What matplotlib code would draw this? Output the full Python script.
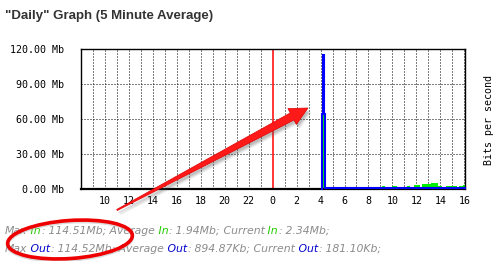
import matplotlib
matplotlib.use("Agg")
import matplotlib.pyplot as plt
import numpy as np
from matplotlib.patches import Ellipse, Polygon

# ---------------- data ----------------
# hours relative to midnight (negative = previous day)
hour_ticks = list(range(-14, 17, 2))
hour_labels = ["10", "12", "14", "16", "18", "20", "22", "0", "2", "4",
               "6", "8", "10", "12", "14", "16"]
y_ticks = [0, 30, 60, 90, 120]
y_labels = ["0.00 Mb", "30.00 Mb", "60.00 Mb", "90.00 Mb", "120.00 Mb"]

# Out (blue) step series: start time of each step and value (Mb)
out_t = [4.12, 4.22, 4.30, 4.38, 16.10]
out_v = [64.5, 114.5, 64.5, 0.8, 0.8]

# In (green) step series
in_t = [4.12, 4.22, 4.30, 4.38, 5.45, 5.55, 9.10, 9.40, 9.70, 10.00, 10.40,
        10.80, 11.00, 11.20, 11.50, 11.80, 12.30, 12.45, 12.70, 13.20, 13.80,
        14.10, 14.50, 15.00, 15.40, 15.60, 15.90, 16.10]
in_v = [64.5, 114.5, 64.5, 0.2, 1.2, 0.2, 2.6, 0.4, 1.6, 3.0, 1.0,
        2.0, 0.6, 3.0, 2.0, 3.6, 2.0, 4.6, 4.2, 5.2, 3.0,
        2.0, 3.0, 2.8, 2.0, 2.8, 3.6, 3.6]

W, H = 501, 261
fig = plt.figure(figsize=(W / 100, H / 100), dpi=100)
fig.patch.set_facecolor("white")

L, R, T, B = 81, 465, 49, 189
ax = fig.add_axes([L / W, 1 - B / H, (R - L) / W, (B - T) / H])
ax.set_xlim(-16, 16.06)
ax.set_ylim(0, 120)
ax.set_facecolor("white")

mono = "DejaVu Sans Mono"
# grid
dot = (0, (1, 2))
for h in range(-15, 17):
    if h == 0:
        continue
    ax.axvline(h, color="black", lw=0.72, ls=dot, zorder=1)
for yv in y_ticks[1:-1]:
    ax.axhline(yv, color="black", lw=0.72, ls=dot, zorder=1)
ax.axvline(0, color="#ff0000", lw=1.1, zorder=2, snap=True)

# data
ax.fill_between(in_t, in_v, step="post", color="#00ee00", lw=0, zorder=3)
ax.plot([out_t[0]] + out_t, [0] + out_v, drawstyle="steps-post",
        color="#0000ff", lw=1.5, zorder=6, solid_joinstyle="miter",
        clip_on=False)

for s in ["top", "right", "left"]:
    ax.spines[s].set_linewidth(1.0)
ax.spines["bottom"].set_linewidth(1.6)
for s in ax.spines.values():
    s.set_zorder(5)

ax.set_xticks(hour_ticks)
ax.set_xticklabels(hour_labels, fontsize=7.2, family=mono)
ax.set_yticks(y_ticks)
ax.set_yticklabels(y_labels, fontsize=7.2, family=mono)
ax.tick_params(axis="both", length=0)
ax.tick_params(axis="x", pad=5)
ax.tick_params(axis="y", pad=12)

fig.text(489 / W, 1 - 120 / H, "Bits per second", rotation=90,
         ha="center", va="center", fontsize=7.2, family=mono)

# title
r = fig.canvas.get_renderer()
title = fig.text(5 / W, 1 - 16 / H, '"Daily" Graph (5 Minute Average)',
                 ha="left", va="center", fontsize=10, fontweight="bold",
                 family="Liberation Sans", color="#333333")
bb = title.get_window_extent(renderer=r)
title.set_fontsize(10 * 208 / bb.width)

# footer lines with colored words
gray = "#8c8c8c"
green = "#22cc00"
blue = "#0000cc"


def line(y_px, segs):
    x = 5 / W
    for s, c in segs:
        t = fig.text(x, 1 - y_px / H, s, color=c, ha="left", va="center",
                     fontsize=7.8, style="italic", family="DejaVu Sans")
        x = t.get_window_extent(renderer=r).x1 / W


line(231, [("Max", gray), (" In", green), (":", gray), (" 114.51Mb;", gray),
           (" Average", gray), (" In", green), (":", gray), (" 1.94Mb;", gray),
           (" Current", gray), (" In", green), (":", gray), (" 2.34Mb;", gray)])
line(249, [("Max", gray), (" Out", blue), (":", gray), (" 114.52Mb;", gray),
           (" Average", gray), (" Out", blue), (":", gray), (" 894.87Kb;", gray),
           (" Current", gray), (" Out", blue), (":", gray), (" 181.10Kb;", gray)])

# annotation: red arrow
tail = np.array([117.0, 210.0])
tip = np.array([308.0, 108.0])
u = (tip - tail) / np.linalg.norm(tip - tail)
n = np.array([u[1], -u[0]])
if n[1] < 0:
    n = -n
base = tip - 18 * u
pts = [tail - 0.6 * n, base - 4.0 * n, base - 9.0 * n, tip,
       base + 9.0 * n, base + 4.0 * n, tail + 0.6 * n]


def to_in(p, dx=0.0, dy=0.0):
    return [((x + dx) / 100, (H - (y + dy)) / 100) for x, y in p]


for k, a in [(3.5, 0.10), (2.5, 0.15), (1.5, 0.2)]:
    fig.add_artist(Polygon(to_in(pts, k, k + 1), closed=True,
                           transform=fig.dpi_scale_trans, facecolor="#555555",
                           edgecolor="none", alpha=a, zorder=8))
fig.add_artist(Polygon(to_in(pts), closed=True, transform=fig.dpi_scale_trans,
                       facecolor="#ff1a1a", edgecolor="#e00000", lw=0.5,
                       zorder=9))

# annotation: red ellipse
fig.add_artist(Ellipse((70 / 100, (H - 241) / 100), 1.25, 0.38, angle=4,
                       transform=fig.dpi_scale_trans, facecolor="none",
                       edgecolor="#bbbbbb", lw=2.6, alpha=0.5, zorder=8))
fig.add_artist(Ellipse((70 / 100, (H - 239.5) / 100), 1.25, 0.38, angle=4,
                       transform=fig.dpi_scale_trans, facecolor="none",
                       edgecolor="#ee0000", lw=2.6, zorder=9))

fig.savefig("out.png", dpi=100, facecolor="white")
